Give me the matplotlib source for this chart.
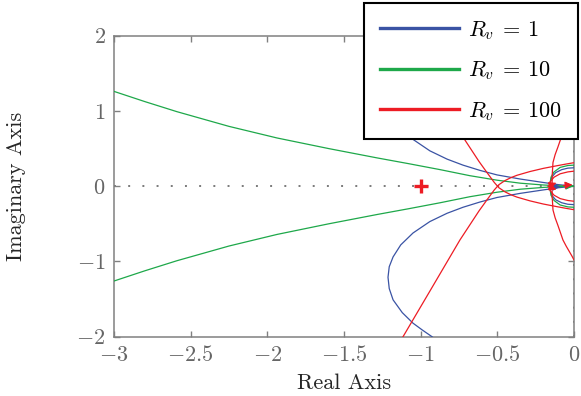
import matplotlib
matplotlib.use("Agg")
import matplotlib.pyplot as plt
from matplotlib.ticker import FuncFormatter, FixedLocator
import numpy as np

plt.rcParams['font.family'] = 'serif'
plt.rcParams['font.serif'] = ['cmr10']
plt.rcParams['mathtext.fontset'] = 'cm'
plt.rcParams['axes.formatter.use_mathtext'] = True

# ---------------- data ----------------
labels = [r'$R_v\:=\:1$', r'$R_v\:=\:10$', r'$R_v\:=\:100$']

# Rv = 1 (blue), lower branch (conjugate gives the upper one)
blue_re = [-0.88, -0.926, -0.99, -1.05, -1.12, -1.18, -1.205, -1.213, -1.205,
           -1.18, -1.13, -1.05, -0.94, -0.828, -0.724, -0.613, -0.502, -0.35,
           -0.202, -0.10, 0.0]
blue_im = [-2.08, -2.0, -1.91, -1.82, -1.68, -1.51, -1.36, -1.21, -1.07,
           -0.94, -0.78, -0.622, -0.47, -0.36, -0.28, -0.21, -0.15, -0.095,
           -0.05, -0.02, 0.0]
blue_loop_re = [-0.15, -0.155, -0.145, -0.12, -0.08, -0.04, 0.0, 0.05]
blue_loop_im = [0.0, -0.05, -0.12, -0.18, -0.22, -0.24, -0.245, -0.24]

# Rv = 10 (green), upper branch
green_re = [-3.10, -3.0, -2.8, -2.589, -2.25, -1.937, -1.6, -1.284, -1.08,
            -0.873, -0.68, -0.502, -0.35, -0.20, -0.10, 0.0]
green_im = [1.33, 1.26, 1.125, 0.99, 0.795, 0.641, 0.50, 0.376, 0.30,
            0.22, 0.14, 0.08, 0.04, 0.016, 0.006, 0.0]
green_loop_re = [-0.14, -0.155, -0.15, -0.13, -0.09, -0.04, 0.0, 0.05]
green_loop_im = [0.0, 0.05, 0.12, 0.19, 0.25, 0.275, 0.28, 0.28]

# Rv = 100 (red)
red_a_re = [-1.16, -1.115, -0.93, -0.744, -0.62, -0.567, -0.52, -0.49, -0.45,
            -0.41, -0.372, -0.287, -0.20, -0.111, -0.05, -0.007, 0.08]
red_a_im = [-2.15, -2.0, -1.36, -0.715, -0.33, -0.18, -0.05, 0.02, 0.075,
            0.115, 0.145, 0.195, 0.237, 0.272, 0.295, 0.31, 0.33]
red_b_re = [-0.143, -0.142, -0.137, -0.123, -0.105, -0.088, -0.072, -0.05,
            -0.03, -0.013, 0.0, 0.05]
red_b_im = [0.0, -0.15, -0.316, -0.42, -0.52, -0.62, -0.715, -0.80,
            -0.87, -0.93, -0.98, -1.1]
red_c_re = [-0.16, -0.155, -0.13, -0.09, -0.04, 0.0, 0.05]
red_c_im = [0.0, 0.06, 0.12, 0.165, 0.19, 0.20, 0.20]

# arrow heads (tail -> head)
red_arrows = [((-0.17, 0.0), (-0.115, 0.045)),
              ((-0.17, 0.0), (-0.115, -0.045)),
              ((-0.07, 0.01), (-0.01, 0.02))]
green_arrows = [((-0.06, 0.004), (-0.004, 0.0))]
blue_arrows = [((-0.13, -0.01), (-0.09, -0.006))]

critical_point = (-1.0, 0.0)

xticks = [-3, -2.5, -2, -1.5, -1, -0.5, 0]
yticks = [-2, -1, 0, 1, 2]

# ---------------- style ----------------
c_blue = '#3a53a4'
c_green = '#1ea84a'
c_red = '#ed1c24'
c_axis = '#808080'

fig = plt.figure(figsize=(5.81, 3.96), dpi=100)
ax = fig.add_axes([114 / 581, 1 - 336.7 / 396, 460 / 581, 301 / 396])

# zero lines
ax.plot([-3, 0], [0, 0], color='#7a7a7a', lw=1.4, ls=(0, (1.0, 6.3)), zorder=1)
ax.plot([0, 0], [-2, 2], color='#7a7a7a', lw=1.4, ls=(0, (1.0, 6.3)), zorder=1)

lw = 0.9
def both(re, im, color, label=None):
    re = np.asarray(re); im = np.asarray(im)
    ax.plot(re, im, color=color, lw=lw, label=label, zorder=3)
    ax.plot(re, -im, color=color, lw=lw, zorder=3)

both(blue_re, blue_im, c_blue, labels[0])
both(blue_loop_re, blue_loop_im, c_blue)
both(green_re, green_im, c_green, labels[1])
both(green_loop_re, green_loop_im, c_green)
both(red_a_re, red_a_im, c_red, labels[2])
both(red_b_re, red_b_im, c_red)
both(red_c_re, red_c_im, c_red)

for arrows, col in ((blue_arrows, c_blue), (green_arrows, c_green), (red_arrows, c_red)):
    for tail, head in arrows:
        ax.annotate('', xy=head, xytext=tail,
                    arrowprops=dict(arrowstyle='-|>', color=col, lw=0.8,
                                    mutation_scale=11, shrinkA=0, shrinkB=0),
                    zorder=4)

ax.plot([critical_point[0]], [critical_point[1]], marker='+', color=c_red,
        markersize=10, mew=2.4, zorder=5)

ax.set_xlim(-3, 0)
ax.set_ylim(-2, 2)
ax.xaxis.set_major_locator(FixedLocator(xticks))
ax.yaxis.set_major_locator(FixedLocator(yticks))
fmt = FuncFormatter(lambda v, p: r'$%g$' % v)
ax.xaxis.set_major_formatter(fmt)
ax.yaxis.set_major_formatter(fmt)
ax.tick_params(direction='in', length=4, width=1, color=c_axis, top=True, right=True,
               labelsize=16, labelcolor='#666666', pad=6)
for s in ax.spines.values():
    s.set_color(c_axis)
    s.set_linewidth(1.1)

ax.set_xlabel('Real Axis', fontsize=16, color='#262626', labelpad=6)
ax.set_ylabel('Imaginary Axis', fontsize=16, color='#262626', labelpad=36)

leg = ax.legend(loc='upper right', bbox_to_anchor=(578 / 581, 1 - 3 / 396),
                bbox_transform=fig.transFigure, borderaxespad=0,
                fontsize=16, handlelength=3.55, handletextpad=0.4,
                labelspacing=0.8, borderpad=0.72, fancybox=False,
                framealpha=1, edgecolor='black')
leg.get_frame().set_linewidth(1.5)
for line in leg.get_lines():
    line.set_linewidth(2.4)
leg.set_zorder(10)

fig.savefig('out.png', dpi=100)
